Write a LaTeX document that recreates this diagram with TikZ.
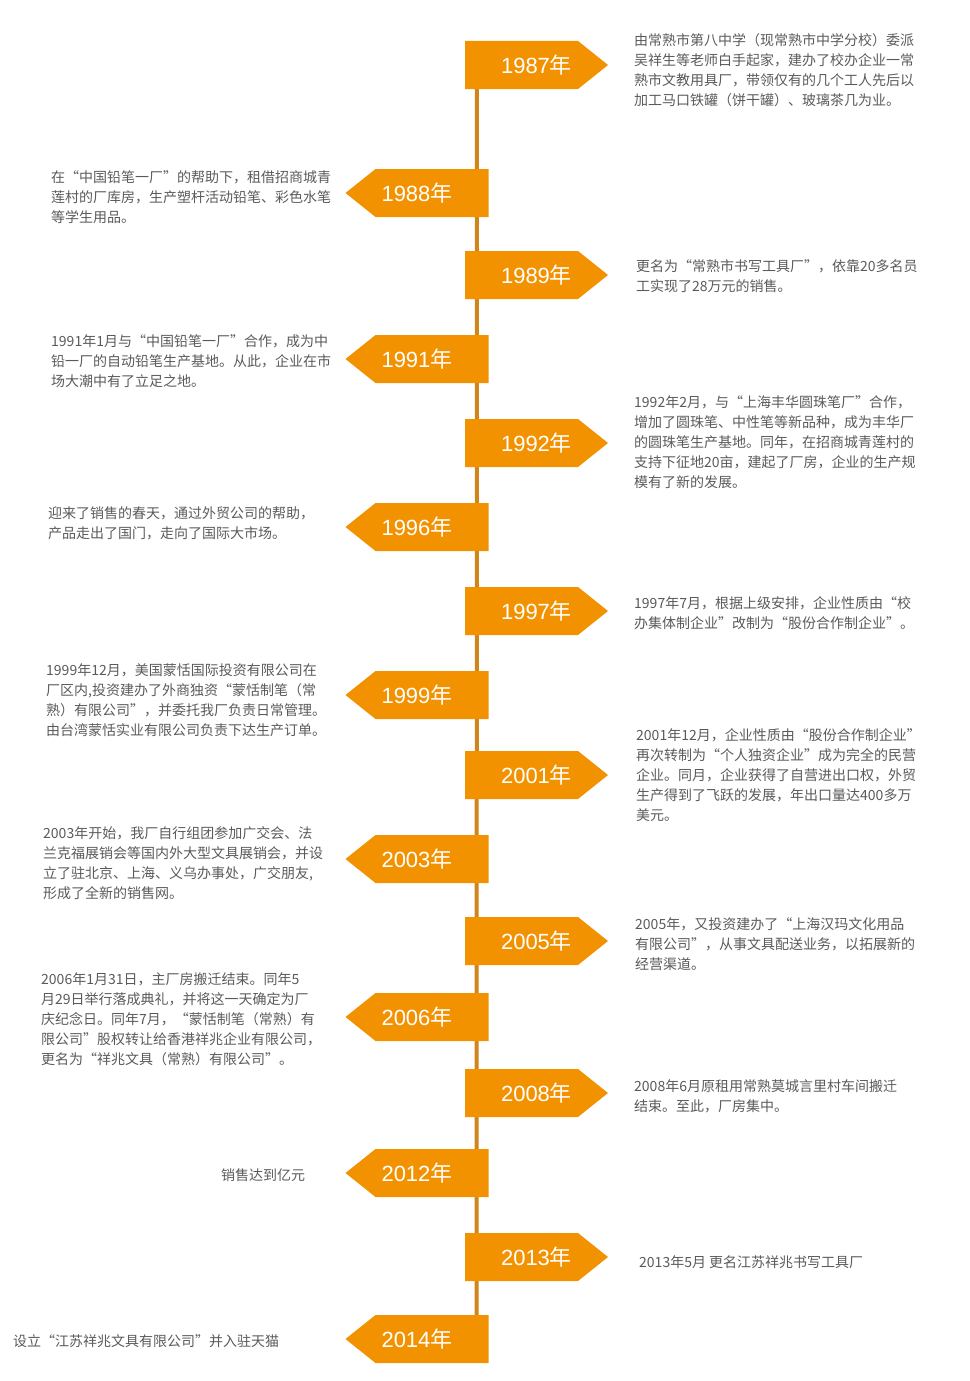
\documentclass[tikz,border=0pt]{standalone}
\usepackage{fontspec}
\setmainfont{Noto Sans CJK SC}
\newfontfamily\yearfont{Liberation Sans}
\newfontfamily\cjkfont{Noto Sans CJK SC}
\usetikzlibrary{backgrounds}

\definecolor{flagorange}{RGB}{243,146,0}
\definecolor{spineorange}{RGB}{208,134,26}
\definecolor{notegray}{RGB}{90,90,90}

\newcommand{\yearlabel}[1]{#1{\cjkfont 年}}

\tikzset{
	flagbase/.style={minimum width=143pt, minimum height=48pt, inner sep=0pt, text=white,
		font=\yearfont\fontsize{22}{22}\selectfont},
	flagright/.style={flagbase, path picture={
		\fill[flagorange] (path picture bounding box.north west)
			-- ([xshift=-30pt]path picture bounding box.north east)
			-- (path picture bounding box.east)
			-- ([xshift=-30pt]path picture bounding box.south east)
			-- (path picture bounding box.south west) -- cycle;}},
	flagleft/.style={flagbase, path picture={
		\fill[flagorange] (path picture bounding box.north east)
			-- ([xshift=30pt]path picture bounding box.north west)
			-- (path picture bounding box.west)
			-- ([xshift=30pt]path picture bounding box.south west)
			-- (path picture bounding box.south east) -- cycle;}},
	note/.style={anchor=north west, inner sep=0pt, align=left, text=notegray,
		font=\fontsize{14}{20}\selectfont},
	spine/.style={draw=spineorange, line width=4pt}
}

\begin{document}
\begin{tikzpicture}[x=1pt, y=-1pt]
	\useasboundingbox (0,0) rectangle (969,1381);

	% Year flags (right side points east, left side points west)
	\node[flagright] (y1987) at (536.5,65) {\yearlabel{1987}};
	\node[flagleft] (y1988) at (417,193) {\yearlabel{1988}};
	\node[flagright] (y1989) at (536.5,275) {\yearlabel{1989}};
	\node[flagleft] (y1991) at (417,359) {\yearlabel{1991}};
	\node[flagright] (y1992) at (536.5,443) {\yearlabel{1992}};
	\node[flagleft] (y1996) at (417,527) {\yearlabel{1996}};
	\node[flagright] (y1997) at (536.5,611) {\yearlabel{1997}};
	\node[flagleft] (y1999) at (417,695) {\yearlabel{1999}};
	\node[flagright] (y2001) at (536.5,775) {\yearlabel{2001}};
	\node[flagleft] (y2003) at (417,859) {\yearlabel{2003}};
	\node[flagright] (y2005) at (536.5,941) {\yearlabel{2005}};
	\node[flagleft] (y2006) at (417,1017) {\yearlabel{2006}};
	\node[flagright] (y2008) at (536.5,1093) {\yearlabel{2008}};
	\node[flagleft] (y2012) at (417,1173) {\yearlabel{2012}};
	\node[flagright] (y2013) at (536.5,1257) {\yearlabel{2013}};
	\node[flagleft] (y2014) at (417,1339) {\yearlabel{2014}};

	% Time line behind the flags
	\begin{scope}[on background layer]
		\draw[spine] ([xshift=12pt]y1987.west) -- ([xshift=-12pt]y2014.east);
	\end{scope}

	% Notes on the right
	\node[note] (n1987) at (634,33) {由常熟市第八中学（现常熟市中学分校）委派\\吴祥生等老师白手起家，建办了校办企业一常\\熟市文教用具厂，带领仅有的几个工人先后以\\加工马口铁罐（饼干罐）、玻璃茶几为业。};
	\node[note] (n1989) at (636,259) {更名为“常熟市书写工具厂”，依靠20多名员\\工实现了28万元的销售。};
	\node[note] (n1992) at (634,395) {1992年2月，与“上海丰华圆珠笔厂”合作，\\增加了圆珠笔、中性笔等新品种，成为丰华厂\\的圆珠笔生产基地。同年，在招商城青莲村的\\支持下征地20亩，建起了厂房，企业的生产规\\模有了新的发展。};
	\node[note] (n1997) at (634,596) {1997年7月，根据上级安排，企业性质由“校\\办集体制企业”改制为“股份合作制企业”。};
	\node[note] (n2001) at (636,728) {2001年12月，企业性质由“股份合作制企业”\\再次转制为“个人独资企业”成为完全的民营\\企业。同月，企业获得了自营进出口权，外贸\\生产得到了飞跃的发展，年出口量达400多万\\美元。};
	\node[note] (n2005) at (635,917) {2005年，又投资建办了“上海汉玛文化用品\\有限公司”，从事文具配送业务，以拓展新的\\经营渠道。};
	\node[note] (n2008) at (634,1079) {2008年6月原租用常熟莫城言里村车间搬迁\\结束。至此，厂房集中。};
	\node[note] (n2013) at (639,1255) {2013年5月 更名江苏祥兆书写工具厂};

	% Notes on the left
	\node[note] (n1988) at (51,170) {在“中国铅笔一厂”的帮助下，租借招商城青\\莲村的厂库房，生产塑杆活动铅笔、彩色水笔\\等学生用品。};
	\node[note] (n1991) at (51,334) {1991年1月与“中国铅笔一厂”合作，成为中\\铅一厂的自动铅笔生产基地。从此，企业在市\\场大潮中有了立足之地。};
	\node[note] (n1996) at (48,506) {迎来了销售的春天，通过外贸公司的帮助，\\产品走出了国门，走向了国际大市场。};
	\node[note] (n1999) at (46,663) {1999年12月，美国蒙恬国际投资有限公司在\\厂区内,投资建办了外商独资“蒙恬制笔（常\\熟）有限公司”，并委托我厂负责日常管理。\\由台湾蒙恬实业有限公司负责下达生产订单。};
	\node[note] (n2003) at (43,826) {2003年开始，我厂自行组团参加广交会、法\\兰克福展销会等国内外大型文具展销会，并设\\立了驻北京、上海、义乌办事处，广交朋友,\\形成了全新的销售网。};
	\node[note] (n2006) at (41,972) {2006年1月31日，主厂房搬迁结束。同年5\\月29日举行落成典礼，并将这一天确定为厂\\庆纪念日。同年7月，“蒙恬制笔（常熟）有\\限公司”股权转让给香港祥兆企业有限公司，\\更名为“祥兆文具（常熟）有限公司”。};
	\node[note] (n2012) at (221,1168) {销售达到亿元};
	\node[note] (n2014) at (13,1334) {设立“江苏祥兆文具有限公司”并入驻天猫};
\end{tikzpicture}
\end{document}
